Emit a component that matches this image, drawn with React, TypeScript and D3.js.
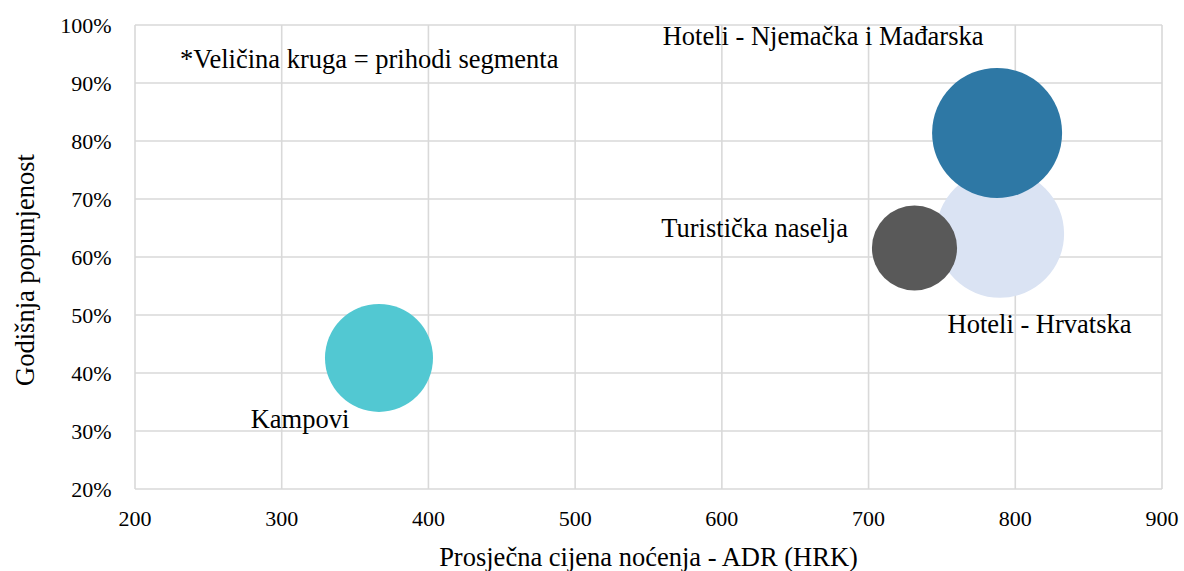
import React from "react";
import * as d3 from "d3";

const names = ["Hoteli - Hrvatska", "Hoteli - Njemačka i Mađarska", "Turistička naselja", "Kampovi"];
const adr = [789.6, 787.6, 731.3, 366.3];
const occupancy = [0.64, 0.814, 0.6155, 0.426];
const revenue = [1020, 1050, 450, 725];
const colors = ["#DAE3F3", "#2E78A5", "#595959", "#52C8D2"];
// label offsets in px relative to bubble centre: [dx, dy, anchor]
const labelOffsets: [number, number, string][] = [
  [39.5, 99, "middle"],
  [-174, -88, "middle"],
  [-66.5, -11, "end"],
  [-79, 70, "middle"],
];
const xTicks = [200, 300, 400, 500, 600, 700, 800, 900];
const yTicks = [0.2, 0.3, 0.4, 0.5, 0.6, 0.7, 0.8, 0.9, 1.0];
const note = "*Veličina kruga = prihodi segmenta";
const xTitle = "Prosječna cijena noćenja - ADR (HRK)";
const yTitle = "Godišnja popunjenost";

const W = 1184;
const H = 571;
const left = 135, right = 1162, top = 25, bottom = 489;
const font = "'Liberation Serif', 'Times New Roman', serif";
const ts = { fontFamily: font };

export default function App() {
  const x = d3.scaleLinear().domain([200, 900]).range([left, right]);
  const y = d3.scaleLinear().domain([0.2, 1.0]).range([bottom, top]);
  const r = d3.scaleSqrt().domain([0, d3.max(revenue) as number]).range([0, 65]);
  const fmt = d3.format(".0%");

  return (
    <svg
      width={W}
      height={H}
      style={{ position: "absolute", left: 0, top: 0, background: "#fff", fontFamily: font }}
    >
      <rect x={0} y={0} width={W} height={H} fill="#fff" />
      {xTicks.map((t) => (
        <line key={"gx" + t} x1={x(t)} x2={x(t)} y1={top} y2={bottom} stroke="#D9D9D9" strokeWidth={1.6} />
      ))}
      {yTicks.map((t) => (
        <line key={"gy" + t} x1={left} x2={right} y1={y(t)} y2={y(t)} stroke="#D9D9D9" strokeWidth={1.6} />
      ))}
      {yTicks.map((t) => (
        <text key={"ty" + t} x={111.5} y={y(t)} dy="0.35em" textAnchor="end" fontSize={22} fill="#000" style={ts}>
          {fmt(t)}
        </text>
      ))}
      {xTicks.map((t) => (
        <text key={"tx" + t} x={x(t)} y={526} textAnchor="middle" fontSize={22} fill="#000" style={ts}>
          {t}
        </text>
      ))}
      {names.map((n, i) => (
        <circle key={"c" + n} cx={x(adr[i])} cy={y(occupancy[i])} r={r(revenue[i])} fill={colors[i]} />
      ))}
      {names.map((n, i) => (
        <text
          key={"l" + n}
          x={x(adr[i]) + labelOffsets[i][0]}
          y={y(occupancy[i]) + labelOffsets[i][1]}
          textAnchor={labelOffsets[i][2] as any}
          fontSize={26.5}
          fill="#000"
          style={ts}
        >
          {n}
        </text>
      ))}
      <text x={180} y={68} fontSize={26.5} fill="#000" style={ts}>
        {note}
      </text>
      <text x={(left + right) / 2} y={566} textAnchor="middle" fontSize={26.5} fill="#000" style={ts}>
        {xTitle}
      </text>
      <text
        transform={`translate(34, 270) rotate(-90)`}
        textAnchor="middle"
        fontSize={26.5}
        fill="#000"
        style={ts}
      >
        {yTitle}
      </text>
    </svg>
  );
}
